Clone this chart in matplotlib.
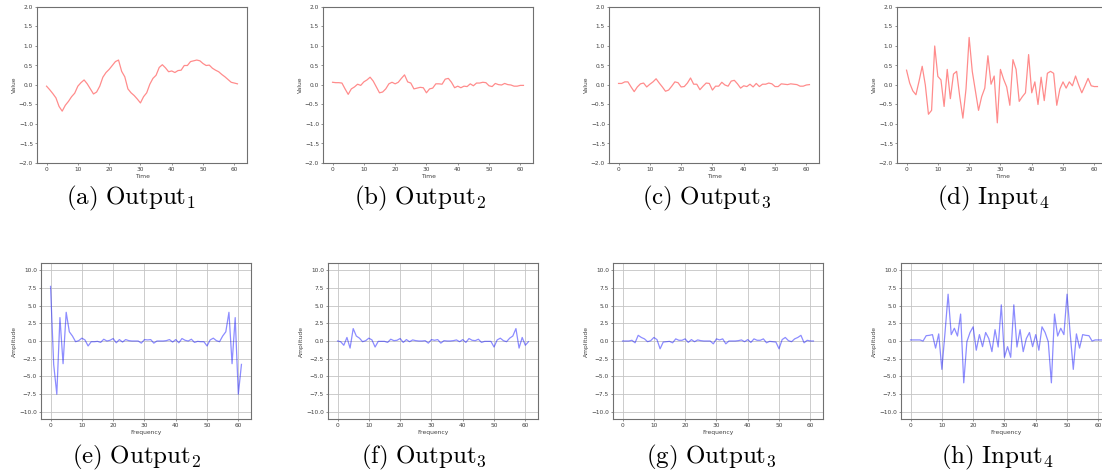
import matplotlib.pyplot as plt

plt.rcParams['mathtext.fontset'] = 'cm'

# time-domain signals (top row), 62 samples each
out1 = [-0.03, -0.12, -0.22, -0.33, -0.55, -0.67, -0.52, -0.42, -0.30, -0.21,
        -0.03, 0.06, 0.13, 0.03, -0.10, -0.23, -0.18, -0.03, 0.20, 0.32,
        0.40, 0.50, 0.60, 0.64, 0.35, 0.21, -0.10, -0.20, -0.27, -0.36,
        -0.46, -0.30, -0.20, 0.02, 0.17, 0.25, 0.45, 0.52, 0.44, 0.34,
        0.36, 0.32, 0.37, 0.38, 0.50, 0.50, 0.60, 0.62, 0.64, 0.62,
        0.55, 0.50, 0.51, 0.43, 0.38, 0.34, 0.27, 0.21, 0.14, 0.07,
        0.05, 0.03]
out2 = [0.07, 0.06, 0.06, 0.05, -0.10, -0.24, -0.10, -0.05, 0.02, -0.01,
        0.08, 0.13, 0.20, 0.10, -0.05, -0.20, -0.18, -0.10, 0.03, 0.07,
        0.03, 0.07, 0.17, 0.26, 0.08, 0.05, -0.10, -0.08, -0.06, -0.07,
        -0.20, -0.10, -0.08, 0.03, 0.03, 0.02, 0.15, 0.17, 0.07, -0.07,
        -0.03, -0.07, -0.03, -0.04, 0.03, -0.02, 0.05, 0.05, 0.07, 0.06,
        -0.02, -0.04, 0.04, 0.01, 0.00, 0.04, 0.01, 0.00, -0.03, -0.03,
        -0.01, -0.01]
out3 = [0.04, 0.04, 0.08, 0.08, -0.05, -0.17, -0.05, 0.03, 0.05, -0.05,
        0.02, 0.08, 0.16, 0.05, -0.05, -0.16, -0.13, -0.03, 0.08, 0.06,
        -0.05, -0.04, 0.05, 0.18, 0.02, 0.02, -0.12, -0.03, 0.05, 0.04,
        -0.13, -0.03, -0.03, 0.07, 0.00, -0.03, 0.10, 0.12, 0.03, -0.08,
        -0.02, -0.04, 0.02, -0.05, 0.04, -0.04, 0.02, 0.02, 0.05, 0.03,
        -0.04, -0.04, 0.03, 0.02, 0.01, 0.03, 0.02, 0.01, -0.03, -0.03,
        0.00, 0.01]
inp4 = [0.38, 0.05, -0.15, -0.25, 0.10, 0.48, 0.00, -0.75, -0.65, 1.00,
        0.22, 0.13, -0.55, 0.40, -0.35, 0.28, 0.35, -0.30, -0.85, -0.10,
        1.22, 0.35, -0.15, -0.65, -0.30, -0.08, 0.75, 0.02, 0.23, -0.97,
        0.40, 0.15, -0.05, -0.52, 0.65, 0.40, -0.42, -0.30, -0.20, 0.78,
        -0.20, 0.08, -0.50, 0.20, -0.40, 0.30, 0.35, 0.30, -0.52, -0.10,
        0.08, -0.08, 0.08, -0.02, 0.23, 0.00, -0.20, -0.02, 0.17, -0.02,
        -0.04, -0.04]

# frequency-domain amplitudes (bottom row)
amp_e = [7.7, -3.3, -7.5, 3.3, -3.2, 4.05, 1.3, 0.7, -0.1, 0.05,
         0.4, 0.15, -0.7, -0.1, -0.1, -0.05, -0.2, 0.25, 0.0, 0.1,
         0.35, -0.25, 0.2, -0.15, 0.2, 0.05, 0.0, 0.0, 0.0, -0.3,
         0.2, 0.15, 0.2, -0.3, 0.0, 0.0, 0.0, 0.05, 0.2, -0.15,
         0.2, -0.25, 0.35, 0.1, 0.0, 0.25, -0.2, -0.05, -0.1, -0.1,
         -0.7, 0.15, 0.4, 0.05, -0.1, 0.7, 1.3, 4.05, -3.2, 3.3,
         -7.5, -3.3]
amp_f = [0.0, -0.1, -0.6, 0.5, -1.0, 1.75, 0.7, 0.4, -0.1, 0.05,
         0.4, 0.15, -0.85, -0.05, -0.05, -0.05, -0.2, 0.25, 0.05, 0.1,
         0.35, -0.2, 0.2, -0.1, 0.15, 0.05, 0.0, 0.0, 0.05, -0.3,
         0.2, 0.1, 0.2, -0.3, 0.05, 0.0, 0.0, 0.05, 0.15, -0.1,
         0.2, -0.2, 0.35, 0.1, 0.05, 0.25, -0.2, -0.05, -0.05, -0.05,
         -0.85, 0.15, 0.4, 0.05, -0.1, 0.4, 0.7, 1.75, -1.0, 0.5,
         -0.6, -0.1]
amp_g = [0.0, 0.0, 0.0, 0.1, -0.25, 0.8, 0.5, 0.3, -0.1, 0.05,
         0.5, 0.2, -1.1, -0.15, -0.1, -0.05, -0.25, 0.3, 0.1, 0.1,
         0.3, -0.2, 0.2, -0.1, 0.15, 0.05, 0.0, 0.0, 0.0, -0.4,
         0.3, 0.15, 0.3, -0.4, 0.0, 0.0, 0.0, 0.05, 0.15, -0.1,
         0.2, -0.2, 0.3, 0.1, 0.1, 0.3, -0.25, -0.05, -0.1, -0.15,
         -1.1, 0.2, 0.5, 0.05, -0.1, 0.3, 0.5, 0.8, -0.25, 0.1,
         0.0, 0.0]
amp_h = [0.15, 0.15, 0.15, 0.15, 0.0, 0.75, 0.8, 0.9, -1.0, 1.0,
         -4.0, 1.1, 6.6, 0.9, 1.8, 0.7, 3.8, -5.9, -0.1, 1.2,
         2.0, -1.3, 0.9, -0.8, 1.2, 0.35, -1.5, 1.6, -0.85, 5.1,
         -2.3, -0.8, -2.3, 5.1, -0.85, 1.6, -1.5, 0.35, 1.2, -0.8,
         0.9, -1.3, 2.0, 1.2, -0.1, -5.9, 3.8, 0.7, 1.8, 0.9,
         6.6, 1.1, -4.0, 1.0, -1.0, 0.9, 0.8, 0.75, 0.0, 0.15,
         0.15, 0.15]

top_series = [out1, out2, out3, inp4]
bot_series = [amp_e, amp_f, amp_g, amp_h]
top_caps = [r'$\mathrm{(a)\ Output}_1$', r'$\mathrm{(b)\ Output}_2$',
            r'$\mathrm{(c)\ Output}_3$', r'$\mathrm{(d)\ Input}_4$']
bot_caps = [r'$\mathrm{(e)\ Output}_2$', r'$\mathrm{(f)\ Output}_3$',
            r'$\mathrm{(g)\ Output}_3$', r'$\mathrm{(h)\ Input}_4$']

W, H = 1102, 473
fig = plt.figure(figsize=(W / 100, H / 100), dpi=100)

top_left = [37, 323, 609, 897]
bot_left = [41, 328, 613, 901]
top_cx = [131, 420, 707, 993]
bot_cx = [137, 424, 711, 997]
aw, ah = 210, 156


def style(ax, ylab, xlab):
    for s in ax.spines.values():
        s.set_color('#707070')
        s.set_linewidth(0.8)
    ax.tick_params(labelsize=4.2, length=1.6, width=0.4, pad=1.2,
                   colors='#404040')
    ax.set_xlabel(xlab, fontsize=4.3, labelpad=1.2, color='#404040')
    ax.set_ylabel(ylab, fontsize=4.3, labelpad=1.5, color='#404040')
    ax.set_xticks(range(0, 61, 10))


for i in range(4):
    ax = fig.add_axes([top_left[i] / W, 1 - (7 + ah) / H, aw / W, ah / H])
    ax.plot(range(len(top_series[i])), top_series[i], color='red',
            alpha=0.45, lw=0.9)
    ax.set_ylim(-2, 2)
    ax.set_yticks([-2, -1.5, -1, -0.5, 0, 0.5, 1, 1.5, 2])
    style(ax, 'Value', 'Time')
    fig.text(top_cx[i] / W, 1 - 204 / H, top_caps[i], ha='center',
             va='baseline', fontsize=18)

for i in range(4):
    ax = fig.add_axes([bot_left[i] / W, 1 - (263 + ah) / H, aw / W, ah / H])
    ax.plot(range(len(bot_series[i])), bot_series[i], color='blue',
            alpha=0.45, lw=0.9)
    ax.set_ylim(-11, 11)
    ax.set_yticks([-10, -7.5, -5, -2.5, 0, 2.5, 5, 7.5, 10])
    ax.grid(True, color='#c4c4c4', lw=0.6)
    style(ax, 'Amplitude', 'Frequency')
    fig.text(bot_cx[i] / W, 1 - 463 / H, bot_caps[i], ha='center',
             va='baseline', fontsize=18)

fig.savefig('out.png', dpi=100)
